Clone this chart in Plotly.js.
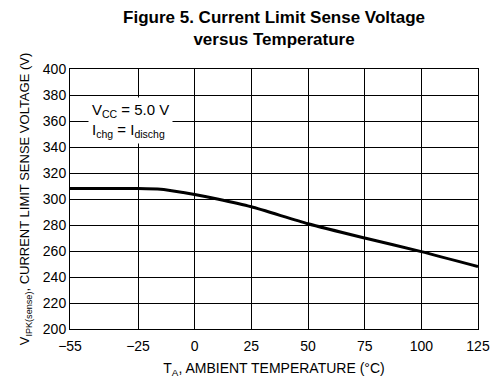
<!DOCTYPE html>
<html><head><meta charset="utf-8">
<script src="https://cdn.plot.ly/plotly-3.0.1.min.js"></script>
<style>body{margin:0;background:#fff}#c{width:492px;height:381px}</style>
</head><body><div id="c"></div>
<script>
const tempC = [-55, -40, -25, -15, -5, 0, 10, 25, 50, 75, 100, 125];
const senseMV = [308, 308, 308, 307.5, 305, 303.5, 300, 294, 281, 270, 259.5, 248];
const xTicks = [-55, -25, 0, 25, 50, 75, 100, 125];
const xTickText = ['\u221255', '\u221225', '0', '25', '50', '75', '100', '125'];

const F = '"Liberation Sans Narrow", "Arial Narrow", "Liberation Sans", Arial, sans-serif';
Plotly.newPlot('c', [{
  x: tempC, y: senseMV, mode: 'lines', type: 'scatter',
  line: {color: '#000', width: 3, shape: 'spline', smoothing: 0.6},
  hoverinfo: 'skip'
}], {
  width: 492, height: 381,
  margin: {l: 70, r: 14, t: 69, b: 52},
  paper_bgcolor: '#fff', plot_bgcolor: '#fff',
  showlegend: false,
  title: {text: '<b>Figure 5. Current Limit Sense Voltage<br>versus Temperature</b>',
          font: {family: '"Liberation Sans", Arial, sans-serif', size: 17, color: '#000'},
          x: 0.557, xanchor: 'center', yref: 'container', y: 0.94, yanchor: 'top'},
  xaxis: {range: [-55, 125], tickvals: xTicks, ticktext: xTickText,
          showgrid: true, gridcolor: '#000', gridwidth: 1,
          showline: true, linecolor: '#000', linewidth: 1, mirror: true,
          zeroline: false, ticks: '', ticklabelstandoff: 4,
          tickfont: {family: F, size: 14, color: '#000'},
          title: {text: 'T<sub>A</sub>, AMBIENT TEMPERATURE (°C)', standoff: 10,
                  font: {family: F, size: 14, color: '#000'}}},
  yaxis: {range: [200, 400], dtick: 20,
          showgrid: true, gridcolor: '#000', gridwidth: 1,
          showline: true, linecolor: '#000', linewidth: 1, mirror: true,
          zeroline: false, ticks: '', tickfont: {family: F, size: 14, color: '#000'},
          title: {text: 'V<sub>IPK(sense)</sub>, CURRENT LIMIT SENSE VOLTAGE (V)', standoff: 10,
                  font: {family: F, size: 13, color: '#000'}}},
  annotations: [{
    xref: 'paper', yref: 'paper', x: 0.045, y: 0.8, xanchor: 'left', yanchor: 'middle',
    align: 'left', showarrow: false, bgcolor: '#fff', borderpad: 3,
    text: 'V<sub>CC</sub> = 5.0 V<br>I<sub>chg</sub> = I<sub>dischg</sub>',
    font: {family: F, size: 15, color: '#000'}
  }]
}, {displayModeBar: false, staticPlot: true});
</script></body></html>
